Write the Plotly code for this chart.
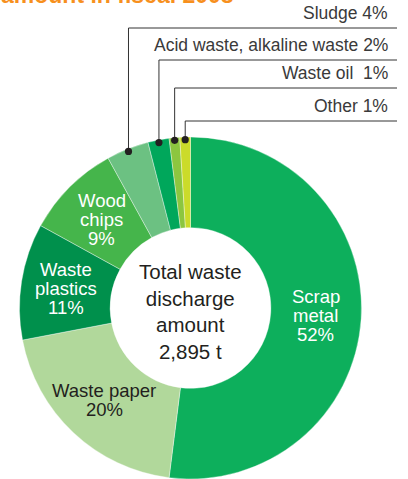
import math
import plotly.graph_objects as go

# ---------------- data ----------------
categories = ["Scrap metal", "Waste paper", "Waste plastics", "Wood chips",
              "Sludge", "Acid waste, alkaline waste", "Waste oil", "Other"]
shares = [52, 20, 11, 9, 4, 2, 1, 1]
slice_labels = [["Scrap", "metal", "52%"], ["Waste paper", "20%"], ["Waste", "plastics", "11%"],
                ["Wood", "chips", "9%"], [], [], [], []]
callout_labels = ["Sludge 4%", "Acid waste, alkaline waste 2%", "Waste oil  1%", "Other 1%"]
center_label = "Total waste<br>discharge<br>amount<br>2,895 t"
title_text = "amount in fiscal 2008"

# ---------------- styling ----------------
colors = ["#0daf5c", "#b1d89b", "#00904c", "#45b54b",
          "#6cc182", "#00a75b", "#8cc63f", "#cbdb2a"]
text_colors = ["#ffffff", "#231f20", "#ffffff", "#ffffff",
               "#ffffff", "#ffffff", "#ffffff", "#ffffff"]
FONT = "Liberation Sans"
W, H = 408, 479
cx, cy, R = 190.5, 308.0, 171.0   # pie centre / radius in pixels
HOLE = 0.47

fig = go.Figure()
fig.add_trace(go.Pie(
    labels=categories, values=shares, textinfo="none",
    sort=False, direction="clockwise", rotation=0, hole=HOLE,
    marker=dict(colors=colors, line=dict(color="rgba(255,255,255,0.6)", width=0.6)),
    domain=dict(x=[(cx - R) / W, (cx + R) / W], y=[0, 2 * R / H]),
    showlegend=False, hoverinfo="label+percent",
))

px = lambda x: x / W
py = lambda y: 1 - y / H

total = sum(shares)
mids = []
cum = 0
for v in shares:
    mids.append((cum + v / 2) / total)
    cum += v

annotations = []
shapes = []

# ---------------- labels inside big slices ----------------
r_text = R * (1 + HOLE) / 2
line_gap = 19
for lines, mid, col in zip(slice_labels, mids, text_colors):
    if not lines:
        continue
    th = 2 * math.pi * mid
    lx = cx + r_text * math.sin(th)
    ly = cy - r_text * math.cos(th)
    n = len(lines)
    for i, t in enumerate(lines):
        yy = ly + (i - (n - 1) / 2) * line_gap
        annotations.append(dict(text=t, xref="paper", yref="paper", x=px(lx), y=py(yy),
                                xanchor="center", yanchor="middle", showarrow=False,
                                font=dict(family=FONT, size=18.5, color=col)))

# ---------------- callouts for small slices ----------------
levels = [28, 60, 88, 121]      # y (px from top) of the horizontal leader rows
small_idx = [4, 5, 6, 7]
line_end = 397
label_right = 390
for lvl, idx, lab in zip(levels, small_idx, callout_labels):
    th = 2 * math.pi * mids[idx]
    r = 0.985 * R
    dx = cx + r * math.sin(th)
    dy = cy - r * math.cos(th)
    shapes.append(dict(type="path", xref="paper", yref="paper", layer="above",
                       path=f"M {px(dx)} {py(dy)} L {px(dx)} {py(lvl)} L {px(line_end)} {py(lvl)}",
                       line=dict(color="#333333", width=1)))
    rr = 3.6
    shapes.append(dict(type="circle", xref="paper", yref="paper", layer="above",
                       x0=px(dx - rr), x1=px(dx + rr), y0=py(dy + rr), y1=py(dy - rr),
                       fillcolor="#231f20", line=dict(width=0)))
    annotations.append(dict(text=lab, xref="paper", yref="paper",
                            x=px(label_right), y=py(lvl - 3), xanchor="right", yanchor="bottom",
                            showarrow=False,
                            font=dict(family=FONT, size=17.5, color="#3a3a3a")))

annotations.append(dict(text=center_label, xref="paper", yref="paper",
                        x=cx / W, y=py(cy + 3), xanchor="center", yanchor="middle",
                        showarrow=False,
                        font=dict(family=FONT, size=20.5, color="#231f20")))
annotations.append(dict(text=f"<b>{title_text}</b>", xref="paper", yref="paper",
                        x=-0.003, y=py(-5), xanchor="left", yanchor="middle",
                        showarrow=False,
                        font=dict(family=FONT, size=23, color="#f7901e")))

fig.update_layout(
    width=W, height=H, margin=dict(l=0, r=0, t=0, b=0),
    paper_bgcolor="white", plot_bgcolor="white",
    shapes=shapes, annotations=annotations,
)
fig.write_html("out.html", config={"displayModeBar": False},
               post_script="document.body.style.margin='0px';")
